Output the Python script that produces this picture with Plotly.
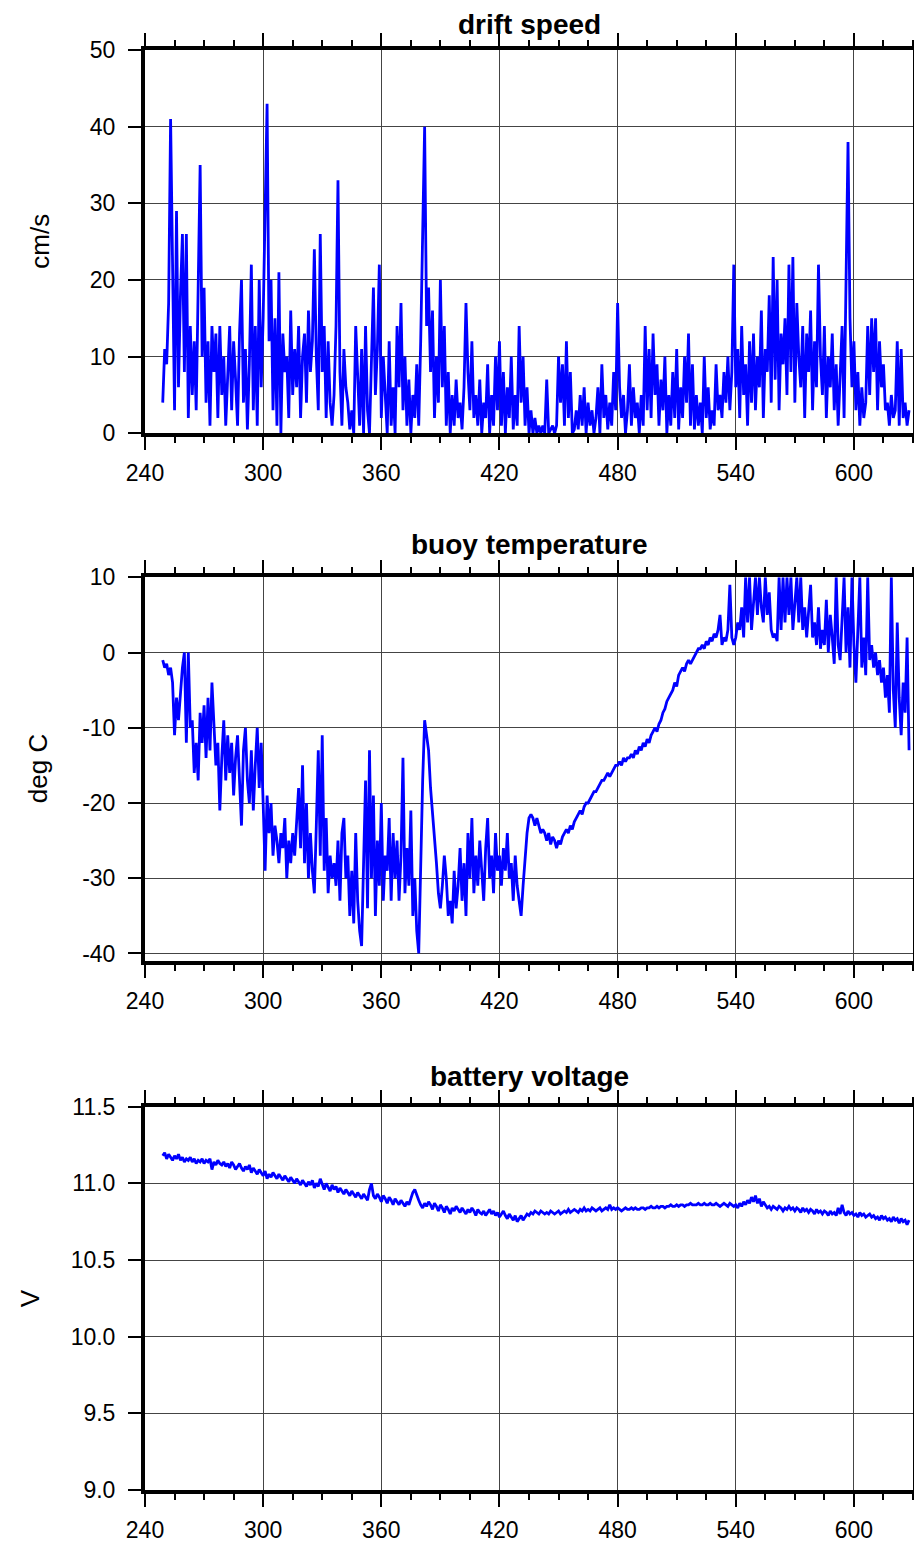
import plotly.graph_objects as go

days = list(range(249, 629))

drift_speed = [
    4, 11, 9, 17, 41, 22, 3, 29, 6, 18,
    26, 8, 26, 2, 14, 5, 12, 3, 19, 35,
    10, 19, 4, 12, 1, 14, 8, 13, 2, 14,
    5, 10, 1, 8, 14, 3, 12, 7, 1, 13,
    20, 4, 11, 0.5, 9, 22, 3, 14, 1, 20,
    6, 15, 30, 43, 12, 20, 3, 15, 1, 21,
    0, 13, 8, 10, 2, 16, 5, 11, 6, 14,
    2, 10, 13, 4, 16, 8, 12, 24, 10, 3,
    26, 8, 14, 2, 12, 4, 1, 5, 14, 33,
    8, 1, 11, 6, 4, 0.5, 3, 0, 14, 6,
    1, 11, 0, 14, 3, 0, 8, 19, 5, 11,
    22, 2, 10, 4, 0, 12, 1, 6, 0, 14,
    6, 17, 3, 10, 1, 7, 0, 5, 2, 9,
    1, 12, 29, 40, 14, 19, 8, 16, 2, 10,
    4, 20, 6, 14, 1, 8, 0, 5, 1, 7,
    2, 4, 0.5, 6, 17, 8, 3, 12, 2, 5,
    1, 7, 0, 4, 2, 9, 0, 5, 1, 10,
    3, 12, 1, 8, 0, 6, 2, 10, 0.5, 5,
    1, 14, 4, 10, 1, 6, 0, 3, 0, 2,
    0, 1, 0, 1, 0, 7, 0, 0.5, 1, 0,
    1, 10, 4, 9, 1, 12, 2, 8, 0, 0.5,
    3, 0.5, 5, 1, 6, 0, 4, 1, 3, 0,
    2, 6, 0, 9, 2, 5, 0.5, 4, 1, 8,
    3, 17, 6, 2, 5, 0, 3, 9, 1, 6,
    2, 4, 0, 5, 1, 14, 3, 11, 2, 13,
    5, 9, 1, 7, 3, 10, 0, 5, 1, 8,
    2, 11, 0.5, 6, 2, 10, 4, 13, 1, 9,
    0.5, 5, 1, 4, 0, 10, 2, 6, 0.5, 3,
    1, 9, 3, 5, 2, 8, 4, 10, 3, 8,
    22, 6, 11, 2, 14, 5, 9, 1, 12, 4,
    13, 3, 10, 6, 16, 2, 11, 8, 18, 4,
    23, 7, 20, 3, 13, 9, 15, 5, 22, 8,
    23, 4, 17, 10, 6, 14, 2, 13, 8, 16,
    3, 12, 6, 22, 10, 5, 14, 2, 10, 6,
    13, 3, 9, 1, 7, 14, 2, 20, 38, 15,
    6, 12, 3, 8, 1, 6, 2, 4, 14, 5,
    15, 8, 15, 3, 12, 6, 9, 3, 4, 1,
    5, 2, 3, 12, 1, 11, 2, 4, 1, 3,
]

buoy_temp = [
    -1, -2, -1.5, -3, -2, -4, -11, -6, -9, -5,
    -2, 0, -12, 0, -10, -9, -16, -12, -17, -8,
    -12, -7, -14, -6, -13, -4, -10, -15, -12, -21,
    -14, -9, -17, -11, -16, -12, -19, -14, -11, -18,
    -23, -13, -10, -17, -20, -13, -21, -15, -10, -18,
    -12, -20, -29, -19, -24, -20, -27, -23, -25, -28,
    -24, -26, -22, -30, -25, -28, -24, -27, -22, -18,
    -26, -15, -28, -20, -30, -24, -29, -32, -23, -13,
    -27, -11, -29, -22, -32, -27, -30, -28, -31, -25,
    -33, -24, -22, -30, -27, -35, -29, -36, -24, -33,
    -37, -39, -28, -17, -34, -13, -30, -19, -35, -25,
    -31, -20, -33, -27, -29, -22, -33, -24, -30, -25,
    -33, -27, -14, -32, -26, -31, -21, -35, -30, -37,
    -40, -28, -17, -9, -11, -13, -18, -21, -25, -28,
    -32, -34, -31, -27, -30, -35, -33, -36, -29, -34,
    -31, -26, -33, -28, -35, -24, -30, -22, -32, -27,
    -31, -25, -29, -33, -26, -22, -30, -27, -32, -24,
    -29, -27, -31, -26, -29, -24, -30, -28, -33, -27,
    -31, -33, -35, -31, -27, -24, -22, -21.5, -22, -23,
    -22, -23, -24, -23.5, -24, -25, -24, -25.5, -24.5, -25,
    -26, -25, -25.5, -24.5, -24, -23.5, -24, -23, -23.5, -22.5,
    -22, -21.5, -21, -21.5, -20.5, -20, -20, -19.5, -19, -18.5,
    -18.5, -18, -17.5, -17, -17, -16.5, -16, -16.5, -16, -15.5,
    -15, -15, -14.5, -15, -14, -14.5, -14, -14, -13.5, -14,
    -13, -13.5, -12.5, -13, -12, -12.5, -11.5, -12, -11, -10.5,
    -10, -10.5, -9.5, -9, -8, -7.5, -6.5, -6, -5.5, -5,
    -4, -4.5, -3, -2.5, -2, -2.5, -1.5, -1, -1.5, -1,
    -0.5, 0, 0.5, 0.5, 1, 0.5, 1.5, 1, 2, 1.5,
    2.5, 2, 3, 5, 1, 2, 1.5, 3, 9, 2,
    1, 2, 4, 3, 6, 2, 10, 4, 10, 3,
    7, 10, 5, 10, 6, 4, 10, 5, 8, 3,
    2, 2.5, 1.5, 10, 3, 10, 4, 10, 5, 10,
    3, 6, 10, 4, 10, 3, 6, 2, 5, 9,
    2, 4, 1, 6, 0.5, 3, 1, 7, 0, 5,
    2, -1.5, 10, 1, -1, 4, 10, 0, 6, -2,
    10, 1, -4, 3, 10, -2, 2, -3, 10, -1,
    1, -2, 0, -3, -1, -4, -2, -6, -3, -8,
    10, -5, -10, 4, -6, -11, -4, -8, 2, -13,
]

battery_v = [
    11.18, 11.20, 11.16, 11.19, 11.17, 11.15, 11.18, 11.16, 11.19, 11.15,
    11.17, 11.14, 11.16, 11.15, 11.17, 11.14, 11.16, 11.13, 11.15, 11.14,
    11.16, 11.13, 11.15, 11.14, 11.16, 11.09, 11.14, 11.12, 11.15, 11.13,
    11.12, 11.14, 11.11, 11.13, 11.10, 11.14, 11.12, 11.09, 11.11, 11.13,
    11.10, 11.08, 11.11, 11.09, 11.12, 11.07, 11.10, 11.08, 11.06, 11.09,
    11.07, 11.05, 11.08, 11.03, 11.06, 11.04, 11.07, 11.05, 11.03, 11.06,
    11.04, 11.02, 11.05, 11.03, 11.01, 11.04, 11.02, 11.00, 11.03, 11.01,
    10.99, 11.02, 11.00, 10.98, 11.01, 10.99, 11.02, 10.97, 11.00, 10.98,
    11.03, 10.99, 10.96, 11.00, 10.97, 10.95, 10.99, 10.96, 10.98, 10.94,
    10.97, 10.95, 10.93, 10.96, 10.94, 10.92, 10.95, 10.93, 10.91, 10.94,
    10.92, 10.90, 10.93, 10.91, 10.89, 10.96, 11.00, 10.92, 10.90, 10.93,
    10.91, 10.88, 10.92, 10.90, 10.87, 10.91, 10.89, 10.86, 10.90, 10.88,
    10.86, 10.89, 10.87, 10.85, 10.88, 10.86, 10.90, 10.94, 10.96, 10.92,
    10.89, 10.86, 10.84, 10.87, 10.85, 10.88, 10.86, 10.83, 10.87, 10.85,
    10.82, 10.86, 10.84, 10.81, 10.85, 10.83, 10.80, 10.84, 10.82, 10.85,
    10.83, 10.81, 10.84, 10.82, 10.80, 10.83, 10.81, 10.84, 10.82, 10.79,
    10.83, 10.81, 10.80, 10.82, 10.79, 10.81, 10.83, 10.80, 10.82, 10.79,
    10.81, 10.78, 10.80, 10.82, 10.79, 10.77, 10.80, 10.78, 10.76, 10.79,
    10.75, 10.77, 10.79, 10.76, 10.78, 10.80, 10.79, 10.81, 10.80, 10.82,
    10.81, 10.80, 10.82, 10.81, 10.80, 10.81, 10.80, 10.82, 10.81, 10.80,
    10.81, 10.82, 10.80, 10.81, 10.82, 10.81, 10.83, 10.81, 10.82, 10.83,
    10.82, 10.81, 10.83, 10.82, 10.84, 10.82, 10.83, 10.82, 10.84, 10.83,
    10.82, 10.83, 10.84, 10.82, 10.83, 10.84, 10.83, 10.86, 10.83, 10.84,
    10.83, 10.84, 10.83, 10.82, 10.83, 10.84, 10.83, 10.83, 10.84, 10.83,
    10.84, 10.83, 10.83, 10.84, 10.84, 10.83, 10.84, 10.84, 10.85, 10.84,
    10.84, 10.85, 10.84, 10.85, 10.85, 10.84, 10.85, 10.85, 10.86, 10.85,
    10.85, 10.86, 10.85, 10.86, 10.86, 10.85, 10.86, 10.86, 10.87, 10.86,
    10.86, 10.86, 10.87, 10.86, 10.86, 10.87, 10.86, 10.86, 10.87, 10.86,
    10.86, 10.87, 10.86, 10.85, 10.86, 10.87, 10.86, 10.85, 10.87, 10.86,
    10.85, 10.86, 10.84, 10.87, 10.85, 10.88, 10.86, 10.89, 10.87, 10.91,
    10.88, 10.92, 10.87, 10.90, 10.85, 10.88, 10.86, 10.84, 10.85, 10.83,
    10.85, 10.84, 10.83, 10.85, 10.84, 10.82, 10.84, 10.83, 10.85, 10.83,
    10.84, 10.82, 10.84, 10.83, 10.81, 10.84, 10.82, 10.83, 10.81, 10.83,
    10.82, 10.80, 10.83, 10.81, 10.82, 10.80, 10.82, 10.81, 10.79, 10.82,
    10.80, 10.81, 10.79, 10.84, 10.80, 10.86, 10.81, 10.79, 10.82, 10.80,
    10.81, 10.79, 10.80, 10.78, 10.81, 10.79, 10.80, 10.78, 10.79, 10.80,
    10.78, 10.79, 10.77, 10.78, 10.76, 10.79, 10.77, 10.78, 10.76, 10.77,
    10.75, 10.78, 10.76, 10.77, 10.74, 10.77, 10.75, 10.76, 10.73, 10.76,
]

panel_titles = ["drift speed", "buoy temperature", "battery voltage"]
y_titles = ["cm/s", "deg C", "V"]
x_ticks = [240, 300, 360, 420, 480, 540, 600]
y_ticks = [[0, 10, 20, 30, 40, 50],
           [-40, -30, -20, -10, 0, 10],
           [9.0, 9.5, 10.0, 10.5, 11.0, 11.5]]
y_ticktext = [["0", "10", "20", "30", "40", "50"],
              ["-40", "-30", "-20", "-10", "0", "10"],
              ["9.0", "9.5", "10.0", "10.5", "11.0", "11.5"]]

FONT = "Liberation Sans, Arial, Helvetica, sans-serif"
OFF = 8  # default page body margin
W, H = 922 - OFF, 1543 - OFF
ML, MT = 145 - OFF, 50 - OFF
MR = W - (913 - OFF)
MB = H - (1490 - OFF)
PH = H - MT - MB
PW = W - ML - MR

def frac(top_px, bot_px):
    top_px -= OFF
    bot_px -= OFF
    return [1 - (bot_px - MT) / PH, 1 - (top_px - MT) / PH]

domains = [frac(50, 433.3), frac(577.3, 961), frac(1106.7, 1490)]
yranges = [[0, 50], [-41, 10], [9, 11.5]]
ytitle_x = [40, 38, 30]
title_shift = [9, 16, 14]

fig = go.Figure()
series = [drift_speed, buoy_temp, battery_v]
for i, s in enumerate(series):
    k = "" if i == 0 else str(i + 1)
    fig.add_trace(go.Scatter(x=days, y=s, mode="lines",
                             line=dict(color="#0000ff", width=2.8),
                             xaxis="x" + k, yaxis="y" + k, showlegend=False))

common = dict(showline=True, linecolor="black", linewidth=4, mirror="ticks",
              ticks="outside", ticklen=13, tickwidth=2, tickcolor="black",
              showgrid=True, gridcolor="#444444", gridwidth=1, zeroline=False,
              automargin=False,
              tickfont=dict(family=FONT, size=23, color="black"))

layout = dict(width=W, height=H, margin=dict(l=ML, r=MR, t=MT, b=MB),
              paper_bgcolor="white", plot_bgcolor="white",
              font=dict(family=FONT, color="black"), annotations=[])

for i in range(3):
    k = "" if i == 0 else str(i + 1)
    layout["xaxis" + k] = dict(common, domain=[0, 1], range=[240, 630],
                               tickvals=x_ticks, anchor="y" + k,
                               ticklabelstandoff=3,
                               minor=dict(dtick=15, tick0=240, ticklen=6, tickwidth=2,
                                          tickcolor="black", ticks="outside", showgrid=False))
    layout["yaxis" + k] = dict(common, domain=domains[i], range=yranges[i],
                               tickvals=y_ticks[i], ticktext=y_ticktext[i],
                               anchor="x" + k, ticklabelstandoff=8)
    layout["annotations"].append(dict(
        text="<b>" + panel_titles[i] + "</b>", xref="paper", yref="paper",
        x=0.5, y=domains[i][1], xanchor="center", yanchor="bottom",
        yshift=title_shift[i], borderpad=0,
        showarrow=False, font=dict(family=FONT, size=28, color="black")))
    layout["annotations"].append(dict(
        text=y_titles[i], xref="paper", yref="paper",
        x=(ytitle_x[i] - OFF - ML) / PW, y=(domains[i][0] + domains[i][1]) / 2,
        xanchor="center", yanchor="middle", textangle=-90,
        showarrow=False, font=dict(family=FONT, size=26, color="black")))

fig.update_layout(**layout)
fig.write_html("out.html")
